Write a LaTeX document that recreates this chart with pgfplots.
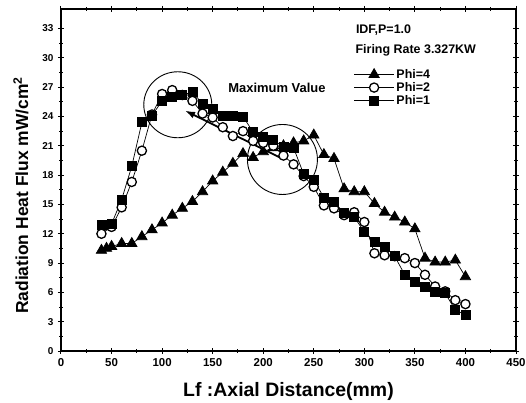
\documentclass[border=0pt]{standalone}
\usepackage{pgfplots}
\pgfplotsset{compat=1.18}
\usepackage{fontspec}
\setmainfont{Liberation Sans}
\usetikzlibrary{calc,arrows.meta}
\begin{document}
\begin{tikzpicture}
\begin{axis}[
  scale only axis,
  width=455bp, height=342bp,
  xmin=0, xmax=450, ymin=0, ymax=35,
  xtick={0,50,...,450},
  ytick={0,3,...,33},
  minor x tick num=1,
  minor y tick num=1,
  tick align=center,
  major tick length=6bp,
  minor tick length=3.5bp,
  axis line style={line width=1.2bp},
  every tick/.style={line width=1bp, black},
  /pgf/number format/assume math mode=true,
  x tick label style={font=\fontsize{11.5}{11.5}\selectfont\bfseries, yshift=-1bp},
  y tick label style={font=\fontsize{10}{10}\selectfont\bfseries, xshift=-1bp},
  xlabel={Lf :Axial Distance(mm)},
  ylabel={Radiation Heat Flux mW/cm\textsuperscript{2}},
  xlabel style={font=\fontsize{19.5}{19.5}\selectfont\bfseries, at={(rel axis cs:0.5,0)}, anchor=center, yshift=-40bp},
  ylabel style={font=\fontsize{17.5}{17.5}\selectfont\bfseries, at={(rel axis cs:0,0.455)}, anchor=center, yshift=40bp},
  legend style={draw=none, fill=none, at={(rel axis cs:0.643,0.83)}, anchor=north west,
    font=\fontsize{12.5}{12.5}\selectfont\bfseries, row sep=-1.5bp, inner sep=0pt, cells={anchor=west}},
  legend image code/.code={\draw[mark repeat=2,mark phase=2,#1] plot coordinates {(0bp,0bp) (20bp,0bp) (40bp,0bp)};},
  clip=false,
]
\coordinate (ll) at (rel axis cs:0,0);
\coordinate (ur) at (rel axis cs:1,1);

\addplot[black, line width=0.7bp, mark=triangle*, mark size=6bp, mark options={solid, fill=black}] coordinates {
(40,10.3)(45,10.5)(50,10.7)(60,11.0)(70,11.0)(80,11.7)(90,12.4)(100,13.1)(110,13.9)(120,14.6)
(130,15.3)(140,16.3)(150,17.4)(160,18.3)(170,19.2)(180,20.2)(190,19.8)(200,20.4)(210,20.8)(220,21.0)
(230,21.3)(240,21.5)(250,22.1)(260,20.1)(270,19.7)(280,16.6)(290,16.3)(300,16.3)(310,15.1)(320,14.2)
(330,13.7)(340,13.2)(350,12.5)(360,9.5)(370,9.1)(380,9.1)(390,9.3)(400,7.6)};
\addlegendentry{Phi=4}

\addplot[black, line width=0.7bp, mark=*, mark size=4.6bp, mark options={solid, fill=white, line width=1.3bp}] coordinates {
(40,12.0)(50,12.7)(60,14.7)(70,17.3)(80,20.5)(90,24.2)(100,26.3)(110,26.7)(120,26.2)(130,25.6)
(140,24.3)(150,23.9)(160,22.9)(170,22.0)(180,22.5)(190,21.5)(200,21.3)(210,21.0)(220,20.0)(230,19.1)
(240,17.9)(250,16.8)(260,14.9)(270,14.6)(280,13.9)(290,14.2)(300,13.2)(310,10.0)(320,9.8)(330,9.7)
(340,9.5)(350,9.0)(360,7.8)(370,6.6)(380,6.1)(390,5.2)(400,4.8)};
\addlegendentry{Phi=2}

\addplot[black, line width=0.7bp, mark=square*, mark size=4.5bp, mark options={solid, fill=black}] coordinates {
(40,12.9)(50,13.0)(60,15.5)(70,18.9)(80,23.4)(90,24.1)(100,25.6)(110,26.0)(120,26.2)(130,26.5)
(140,25.3)(150,24.8)(160,24.1)(170,24.1)(180,24.0)(190,22.4)(200,21.9)(210,21.6)(220,20.9)(230,20.8)
(240,18.1)(250,17.5)(260,15.7)(270,15.3)(280,14.1)(290,13.7)(300,12.2)(310,11.2)(320,10.7)(330,9.7)
(340,7.8)(350,7.1)(360,6.6)(370,6.1)(380,5.9)(390,4.2)(400,3.7)};
\addlegendentry{Phi=1}

\draw[line width=0.9bp] (axis cs:115.5,25.2) ellipse [x radius=34bp, y radius=33bp];
\draw[line width=0.9bp] (axis cs:219,19.6) ellipse [x radius=35bp, y radius=35bp];
\draw[line width=1.8bp, -{Latex[length=10bp,width=7bp]}] (axis cs:216.6,19.8) -- (axis cs:122.7,24.6);
\node[anchor=west, font=\fontsize{13}{13}\selectfont\bfseries] at (axis cs:162,26.9) {Maximum Value};
\node[anchor=west, font=\fontsize{12.5}{12.5}\selectfont\bfseries, inner sep=0pt] at (rel axis cs:0.648,0.939) {IDF,P=1.0};
\node[anchor=west, font=\fontsize{12.5}{12.5}\selectfont\bfseries, inner sep=0pt] at (rel axis cs:0.647,0.878) {Firing Rate 3.327KW};
\end{axis}
\pgfresetboundingbox
\path ($(ll)+(-61bp,-51.7bp)$) rectangle ($(ur)+(10bp,9bp)$);
\end{tikzpicture}
\end{document}
